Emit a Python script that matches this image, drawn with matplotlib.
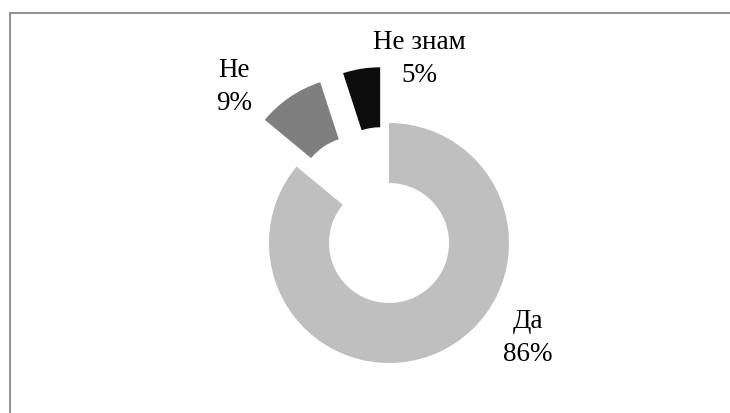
import matplotlib.pyplot as plt

# data
labels = ['Да', 'Не', 'Не знам']
values = [86, 9, 5]
colors = ['#bfbfbf', '#7f7f7f', '#0d0d0d']
explode = [0, 0.47, 0.47]

plt.rcParams['font.family'] = ['Liberation Serif', 'DejaVu Serif']

fig = plt.figure(figsize=(7.3, 4.13), dpi=100)
ax = fig.add_axes([0, 0, 1, 1])

ax.pie(values, colors=colors, explode=explode, startangle=90, counterclock=False,
       radius=1, wedgeprops=dict(width=0.5, linewidth=0))

# 120 px per data unit, donut centre at (389, 243) px from top-left
ax.set_xlim(-389 / 120, (730 - 389) / 120)
ax.set_ylim(-(413 - 243) / 120, 243 / 120)
ax.set_aspect('auto')
ax.axis('off')

# label positions (px from top-left)
lab_pos = [(528, 338), (234, 87), (419.5, 59)]
for lab, v, (px, py) in zip(labels, values, lab_pos):
    ax.text((px - 389) / 120, (243 - py) / 120, f'{lab}\n{v}%', ha='center', va='center',
            fontsize=19.5, linespacing=1.4, color='black')

# border (only top and left visible)
fig.add_artist(plt.Line2D([9.5 / 730, 1], [1 - 12.5 / 413, 1 - 12.5 / 413], color='#898989', lw=1.3))
fig.add_artist(plt.Line2D([9.5 / 730, 9.5 / 730], [0, 1 - 12.5 / 413], color='#898989', lw=1.3))

fig.savefig('out.png', dpi=100)
